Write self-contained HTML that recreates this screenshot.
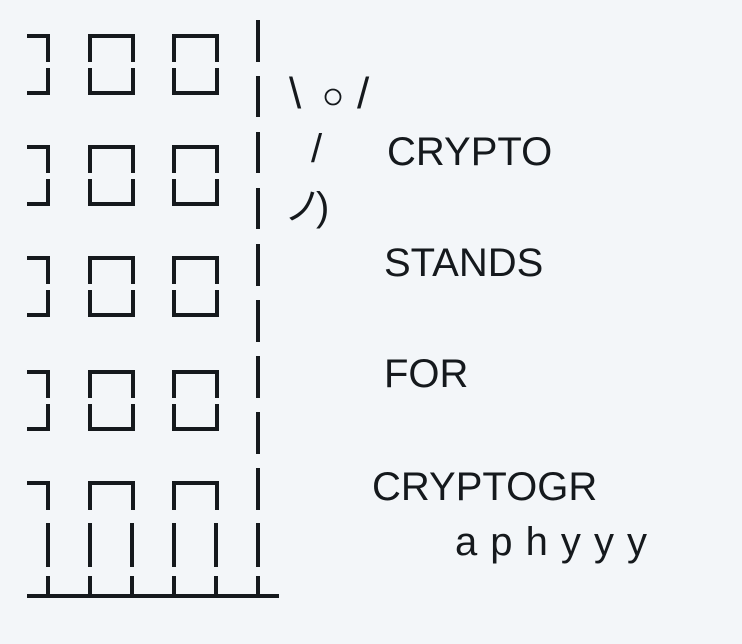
<!DOCTYPE html>
<html><head><meta charset="utf-8"><style>
html,body{margin:0;padding:0;background:#f3f6f9;}
svg{display:block}
text{font-family:"Liberation Sans","Noto Sans CJK JP",sans-serif;fill:#15191d}
</style></head><body>
<svg width="742" height="644" viewBox="0 0 742 644" xmlns="http://www.w3.org/2000/svg">
<g stroke="#15191d" stroke-width="4" fill="none" stroke-linecap="butt">
<!-- rows 1-4 -->
<g id="r1">
<path d="M27 36H48V62M48 68V93H27"/>
<path d="M90 62V36H133V62M90 68V93H133V68"/>
<path d="M174 62V36H217V62M174 68V93H217V68"/>
</g>
<use href="#r1" y="111"/>
<use href="#r1" y="222"/>
<use href="#r1" y="336"/>
<!-- row 5 -->
<path d="M27 483H48V510"/>
<path d="M90 510V483H133V510"/>
<path d="M174 510V483H217V510"/>
<path d="M48 523V567M90 523V567M132 523V567M174 523V567M216 523V567M258 523V567"/>
<path d="M48 576V596M90 576V596M132 576V596M174 576V596M216 576V596M258 576V596"/>
<path d="M27 596H279"/>
<!-- wall -->
<path d="M258 20V62M258 76V117M258 132V173M258 188V229M258 244V286M258 300V342M258 356V398M258 412V454M258 468V510"/>
</g>
<!-- figure -->
<text x="289" y="108" font-size="44">\</text>
<circle cx="333" cy="97" r="7.5" fill="none" stroke="#15191d" stroke-width="1.8"/>
<text x="357" y="108" font-size="44">/</text>
<text x="311" y="162" font-size="40">/</text>
<text x="284" y="220" font-size="38">ノ</text>
<text x="316" y="220" font-size="40">)</text>
<!-- words -->
<text x="387" y="165" font-size="40">CRYPTO</text>
<text x="384" y="276" font-size="40">STANDS</text>
<text x="384" y="387" font-size="40">FOR</text>
<text x="372" y="500" font-size="40">CRYPTOGR</text>
<text x="455" y="555" font-size="40" textLength="192" lengthAdjust="spacing">a p h y y y</text>
</svg>
</body></html>
